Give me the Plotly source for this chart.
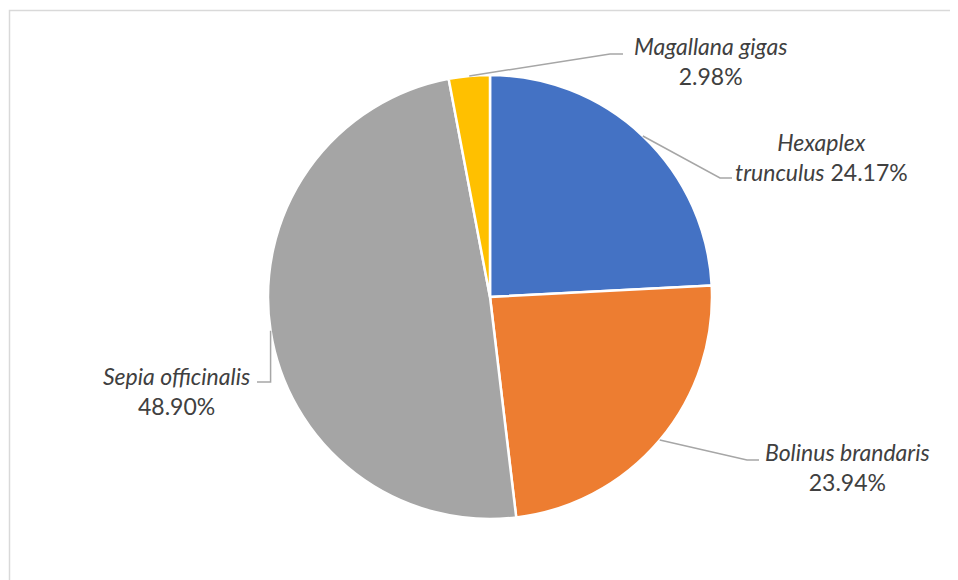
import math
import plotly.graph_objects as go

# ---- data ----
species = ["Hexaplex trunculus", "Bolinus brandaris", "Sepia officinalis", "Magallana gigas"]
shares = [24.17, 23.94, 48.90, 2.98]
colors = ["#4472C4", "#ED7D31", "#A5A5A5", "#FFC000"]

# ---- layout constants (pixels, in window coordinates) ----
W, H = 958, 580
OFF = 8  # page body margin
CX, CY, R = 490, 297, 222
# label block centres and leader elbow/end points (pixels)
label_pos = [(821, 157), (847, 467), (176, 391), (710, 61)]
elbows = [((720, 178), (732, 178)),
          ((747, 460), (759, 460)),
          (None, (257, 382)),
          ((610, 54), (623, 54))]
label_text = [
    "<i>Hexaplex</i><br><i>trunculus</i> {:.2f}%",
    "<i>Bolinus brandaris</i><br>{:.2f}%",
    "<i>Sepia officinalis</i><br>{:.2f}%",
    "<i>Magallana gigas</i><br>{:.2f}%",
]

def px(x, y):
    return (x - OFF) / W, 1 - (y - OFF) / H

x0d, y1d = px(CX - R, CY - R)
x1d, y0d = px(CX + R, CY + R)

fig = go.Figure(go.Pie(
    labels=species, values=shares, sort=False, direction="clockwise", rotation=0,
    marker=dict(colors=colors, line=dict(color="white", width=2.5)),
    textinfo="none", hoverinfo="label+percent", showlegend=False,
    domain=dict(x=[x0d, x1d], y=[y0d, y1d]),
))

total = sum(shares)
cum = 0
shapes = []
annotations = []
for i, v in enumerate(shares):
    mid = (cum + v / 2) / total * 2 * math.pi
    cum += v
    ax, ay = CX + R * math.sin(mid), CY - R * math.cos(mid)
    elbow, end = elbows[i]
    if elbow is None:
        elbow = (ax, end[1])
    pts = [px(ax, ay), px(*elbow), px(*end)]
    path = "M {} {} L {} {} L {} {}".format(pts[0][0], pts[0][1], pts[1][0], pts[1][1], pts[2][0], pts[2][1])
    shapes.append(dict(type="path", xref="paper", yref="paper", path=path,
                       line=dict(color="#A6A6A6", width=1.5)))
    lx, ly = px(*label_pos[i])
    annotations.append(dict(x=lx, y=ly, xref="paper", yref="paper", showarrow=False,
                            text=label_text[i].format(v), align="center",
                            xanchor="center", yanchor="middle",
                            font=dict(family="Lato", size=23, color="#404040")))

# chart border (only top/left visible in the crop)
bx, by = px(9.5, 10.5)
shapes.append(dict(type="rect", xref="paper", yref="paper",
                   x0=bx, y0=-0.05, x1=1.05, y1=by,
                   line=dict(color="#D9D9D9", width=1.5)))

fig.update_layout(width=W, height=H, margin=dict(l=0, r=0, t=0, b=0),
                  paper_bgcolor="white", plot_bgcolor="white",
                  shapes=shapes, annotations=annotations)
fig.write_html("out.html")
